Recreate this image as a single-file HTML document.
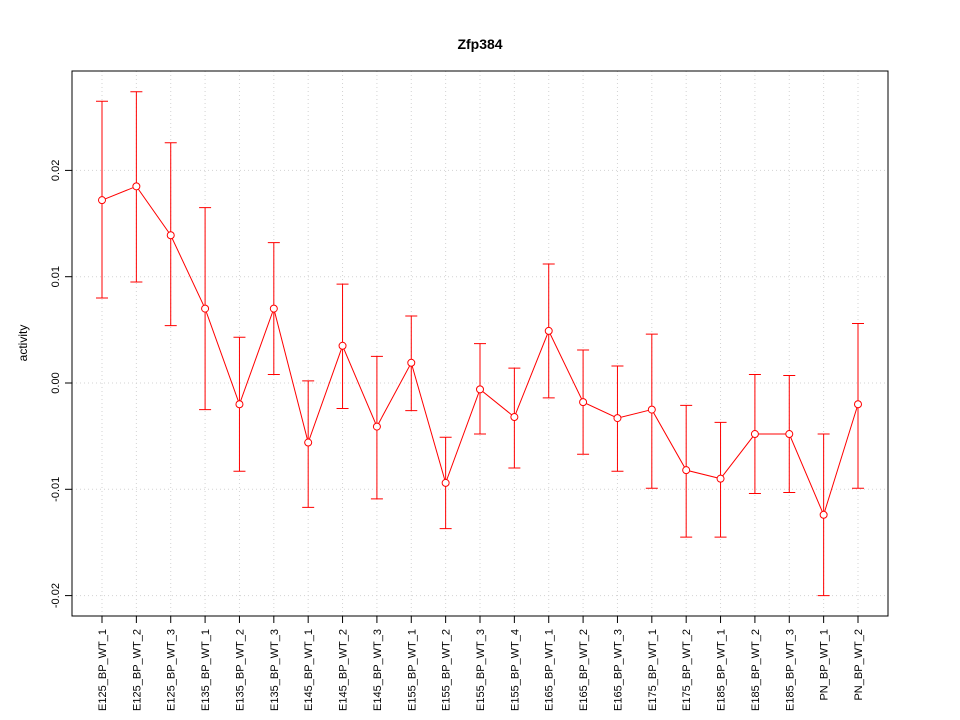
<!DOCTYPE html>
<html><head><meta charset="utf-8"><style>
body{margin:0;background:#fff;}
svg{display:block;font-family:"Liberation Sans",sans-serif;}
</style></head><body>
<svg id="chart" width="960" height="720">
<text x="480" y="49" text-anchor="middle" font-size="14" font-weight="bold">Zfp384</text>
<text transform="translate(27,343) rotate(-90)" text-anchor="middle" font-size="12">activity</text>
<g id="grid"></g><g id="axes"></g><g id="marks"></g>
</svg>
<script>
const categories=["E125_BP_WT_1","E125_BP_WT_2","E125_BP_WT_3","E135_BP_WT_1","E135_BP_WT_2","E135_BP_WT_3","E145_BP_WT_1","E145_BP_WT_2","E145_BP_WT_3","E155_BP_WT_1","E155_BP_WT_2","E155_BP_WT_3","E155_BP_WT_4","E165_BP_WT_1","E165_BP_WT_2","E165_BP_WT_3","E175_BP_WT_1","E175_BP_WT_2","E185_BP_WT_1","E185_BP_WT_2","E185_BP_WT_3","PN_BP_WT_1","PN_BP_WT_2"];
const values=[0.0172,0.0185,0.0139,0.0070,-0.0020,0.0070,-0.0056,0.0035,-0.0041,0.0019,-0.0094,-0.0006,-0.0032,0.0049,-0.0018,-0.0033,-0.0025,-0.0082,-0.0090,-0.0048,-0.0048,-0.0124,-0.0020];
const upper=[0.0265,0.0274,0.0226,0.0165,0.0043,0.0132,0.0002,0.0093,0.0025,0.0063,-0.0051,0.0037,0.0014,0.0112,0.0031,0.0016,0.0046,-0.0021,-0.0037,0.0008,0.0007,-0.0048,0.0056];
const lower=[0.0080,0.0095,0.0054,-0.0025,-0.0083,0.0008,-0.0117,-0.0024,-0.0109,-0.0026,-0.0137,-0.0048,-0.0080,-0.0014,-0.0067,-0.0083,-0.0099,-0.0145,-0.0145,-0.0104,-0.0103,-0.0200,-0.0099];
const yTicks=[-0.02,-0.01,0.00,0.01,0.02];
const yTickLabels=["-0.02","-0.01","0.00","0.01","0.02"];

const NS="http://www.w3.org/2000/svg";
const L=72,R=888,T=71,B=616;
const x=i=>102+i*(858-102)/(categories.length-1);
const y=v=>383-v*10630;
function mk(parent,tag,attrs){const e=document.createElementNS(NS,tag);for(const k in attrs)e.setAttribute(k,attrs[k]);document.getElementById(parent).appendChild(e);return e;}

categories.forEach((c,i)=>{
  const g=mk("grid","line",{x1:x(i),x2:x(i),y1:T,y2:B,stroke:"#d3d3d3","stroke-dasharray":"1,3"});
  
  
  const t=mk("axes","line",{x1:x(i),x2:x(i),y1:B,y2:B+7,stroke:"#000"});
  
  
  const lb=mk("axes","text",{transform:`translate(${x(i)+4},${B+13}) rotate(-90)`,"text-anchor":"end","font-size":"11"});
  lb.textContent=c;
  
  
});
yTicks.forEach((v,i)=>{
  const g=mk("grid","line",{x1:L,x2:R,y1:y(v),y2:y(v),stroke:"#d3d3d3","stroke-dasharray":"1,3"});
  
  
  const t=mk("axes","line",{x1:L-7,x2:L,y1:y(v),y2:y(v),stroke:"#000"});
  
  
  const lb=mk("axes","text",{transform:`translate(${L-13},${y(v)}) rotate(-90)`,"text-anchor":"middle","font-size":"11"});
  lb.textContent=yTickLabels[i];
  
  
});
const frame=mk("axes","rect",{x:L,y:T,width:R-L,height:B-T,fill:"none",stroke:"#000"});



const line=mk("marks","polyline",{points:values.map((v,i)=>x(i)+","+y(v)).join(" "),fill:"none",stroke:"#ff0000"});


values.forEach((v,i)=>{
  const e=mk("marks","path",{d:`M${x(i)},${y(upper[i])}V${y(lower[i])}M${x(i)-6},${y(upper[i])}H${x(i)+6}M${x(i)-6},${y(lower[i])}H${x(i)+6}`,stroke:"#ff0000",fill:"none"});
  
  
  const p=mk("marks","circle",{cx:x(i),cy:y(v),r:3.5,fill:"#fff",stroke:"#ff0000"});
  
  
});
</script>
</body></html>
